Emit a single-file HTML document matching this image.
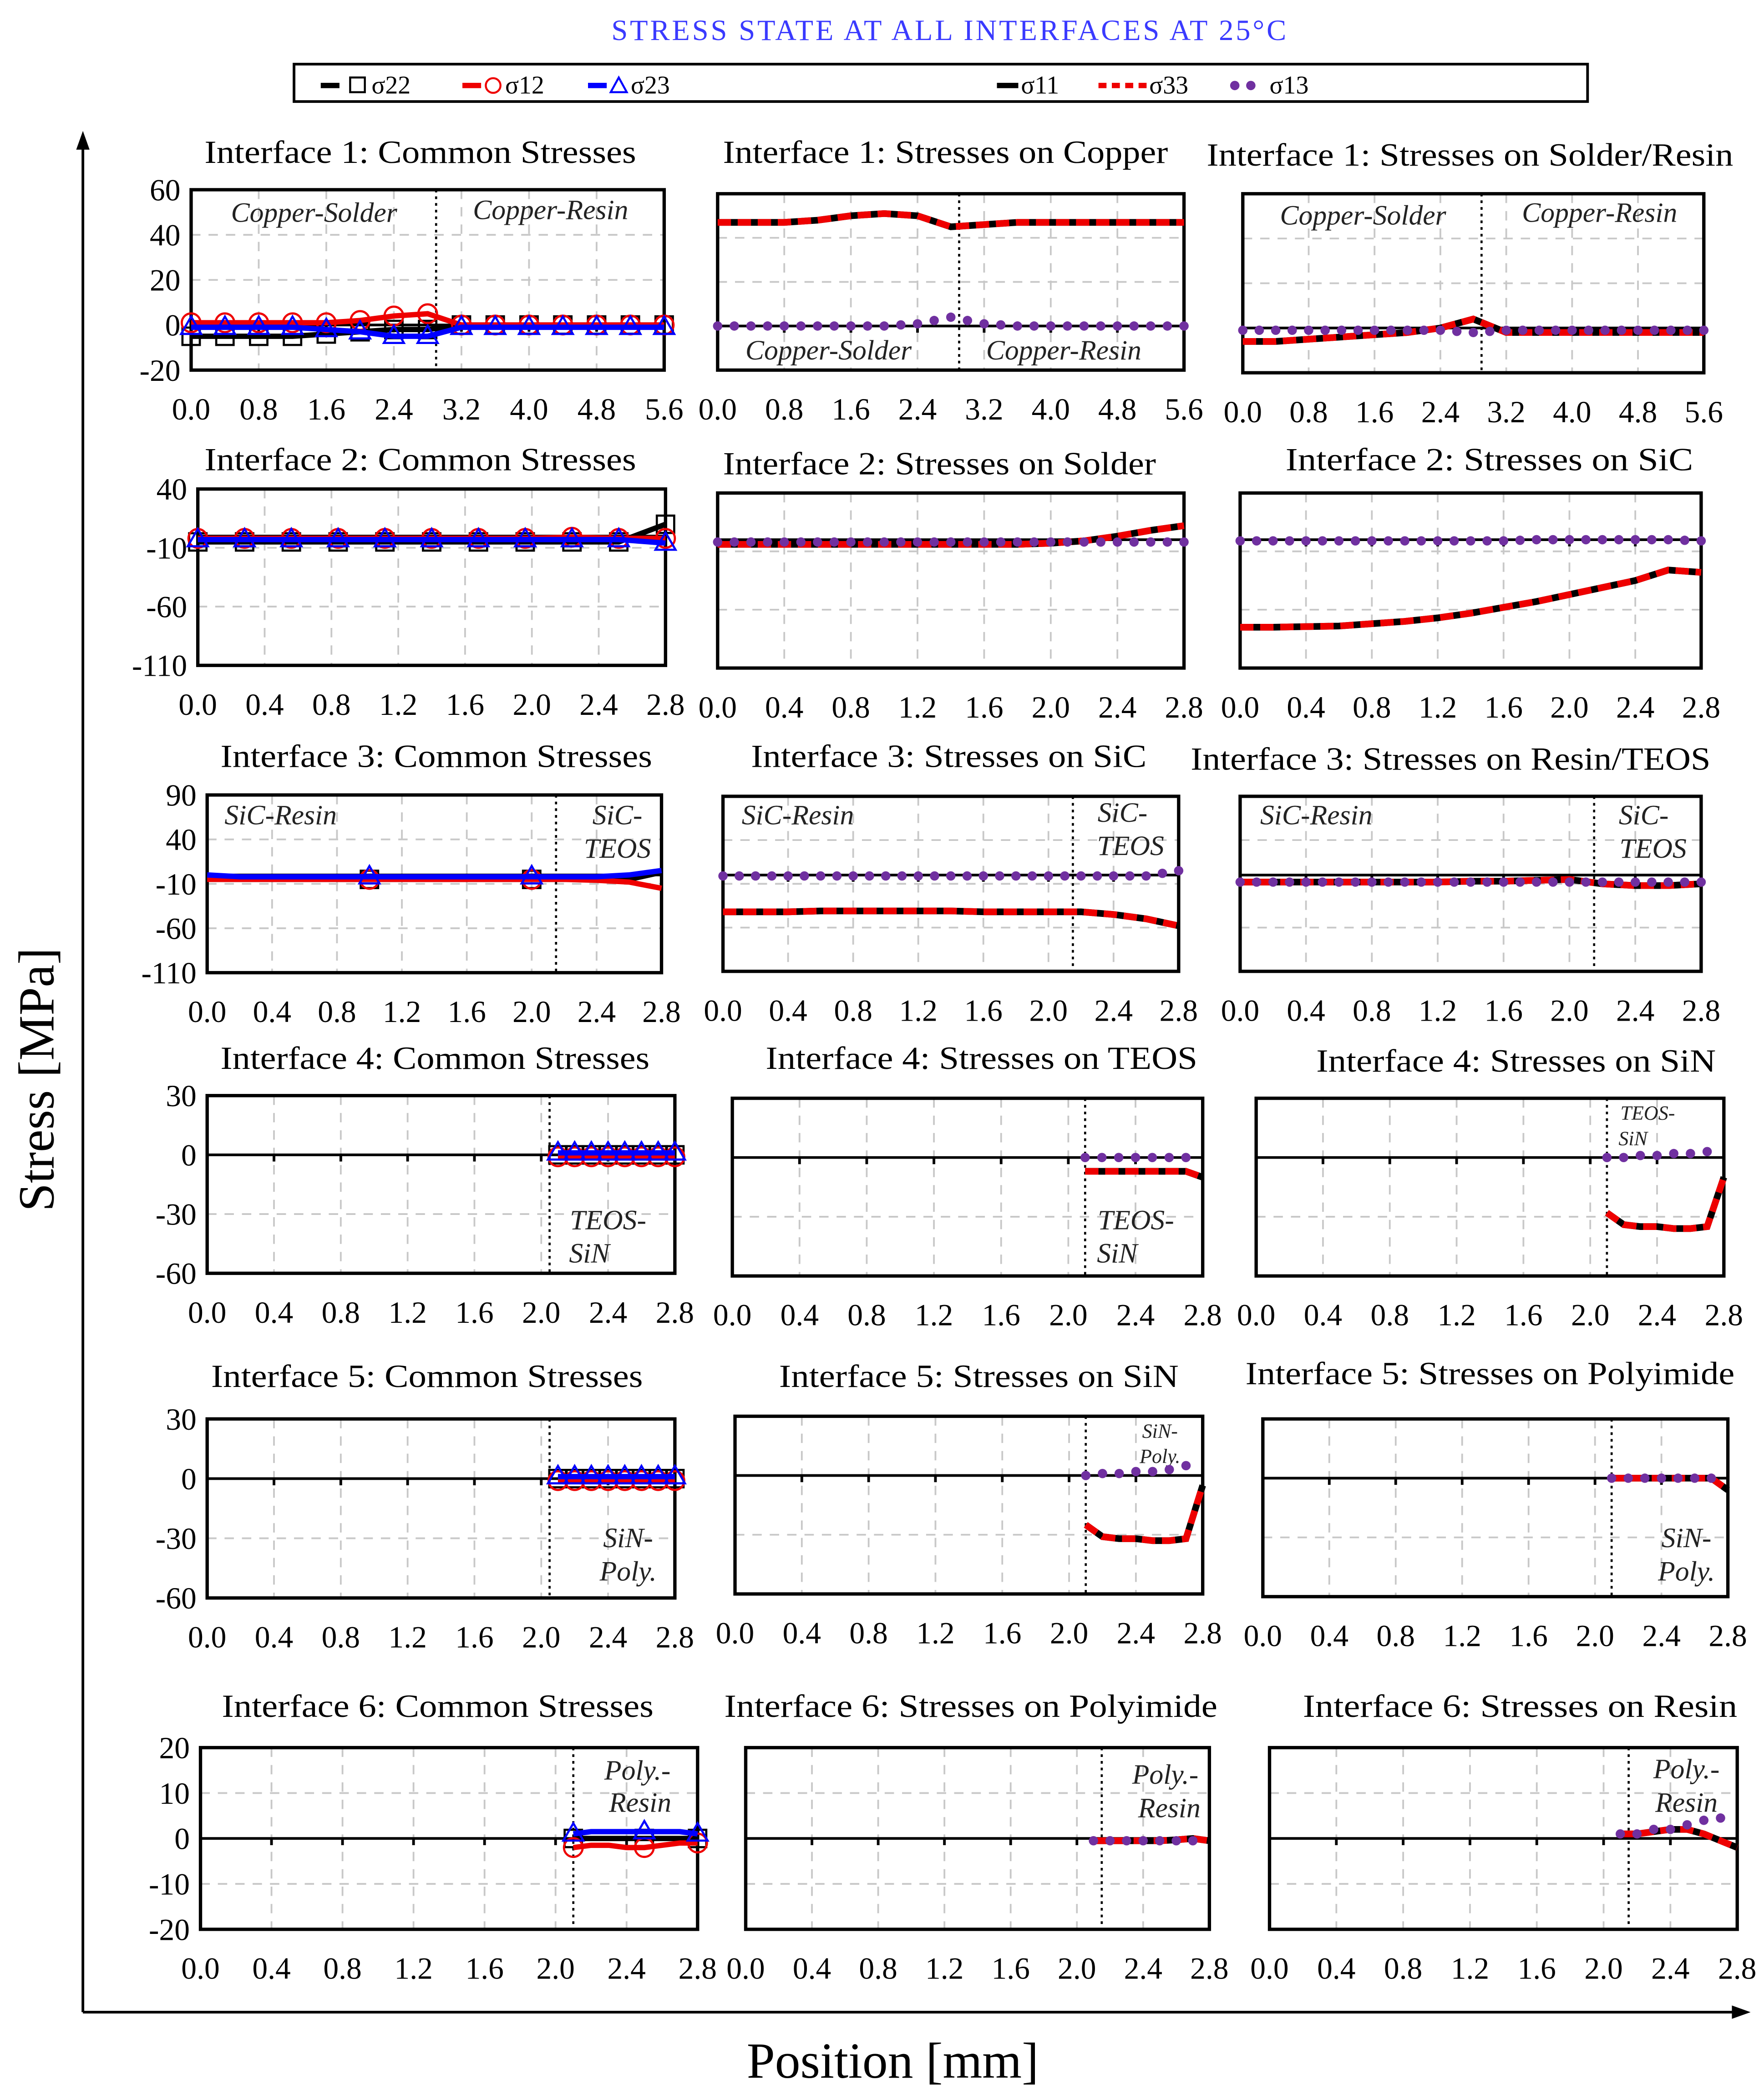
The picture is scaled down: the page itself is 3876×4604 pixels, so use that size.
<!DOCTYPE html>
<html><head><meta charset="utf-8">
<style>
html,body{margin:0;padding:0;background:#fff;}
svg{display:block;}
text{font-family:"Liberation Serif",serif;}
</style></head>
<body>
<svg id="fig" width="3876" height="4604" viewBox="0 0 1320 1568" xmlns="http://www.w3.org/2000/svg">
<text x="710" y="30" font-size="22" fill="#3a3aff" text-anchor="middle" textLength="505">STRESS STATE AT ALL INTERFACES AT 25°C</text>
<g>
<rect x="220" y="48" width="968" height="28" fill="#fff" stroke="#000" stroke-width="2"/>
<g><line x1="240" y1="64" x2="254" y2="64" stroke="#000" stroke-width="4"/><rect x="262" y="58" width="11" height="11" fill="none" stroke="#000" stroke-width="1.5"/><text x="278" y="70" font-size="19">σ22</text></g>
<g><line x1="346" y1="64" x2="360" y2="64" stroke="#e00" stroke-width="4"/><circle cx="369" cy="64" r="5.5" fill="none" stroke="#e00" stroke-width="1.5"/><text x="378" y="70" font-size="19">σ12</text></g>
<g><line x1="440" y1="64" x2="454" y2="64" stroke="#00f" stroke-width="4"/><path d="M463 58 L469 69 L457 69 Z" fill="none" stroke="#00f" stroke-width="1.5"/><text x="472" y="70" font-size="19">σ23</text></g>
<g><line x1="746" y1="64" x2="762" y2="64" stroke="#000" stroke-width="4"/><text x="764" y="70" font-size="19">σ11</text></g>
<g><line x1="822" y1="64" x2="858" y2="64" stroke="#e00" stroke-width="4" stroke-dasharray="6,4"/><text x="860" y="70" font-size="19">σ33</text></g>
<g><circle cx="924" cy="64" r="3.5" fill="#7030a0"/><circle cx="936" cy="64" r="3.5" fill="#7030a0"/><text x="950" y="70" font-size="19">σ13</text></g>
</g>
<g>
<line x1="62" y1="1506" x2="62" y2="108" stroke="#000" stroke-width="2"/>
<path d="M62 98 L57 112 L67 112 Z" fill="#000"/>
<line x1="62" y1="1506" x2="1300" y2="1506" stroke="#000" stroke-width="2"/>
<path d="M1310 1506 L1296 1501 L1296 1511 Z" fill="#000"/>
</g>
<text transform="translate(40,808) rotate(-90)" font-size="38" text-anchor="middle">Stress [MPa]</text>
<text x="668" y="1555" font-size="38" text-anchor="middle">Position [mm]</text>
<g id="panels"></g>
</svg>
<script>
// ---- data arrays ----
const xLong = [0,0.4,0.8,1.2,1.6,2.0,2.4,2.8,3.2,3.6,4.0,4.4,4.8,5.2,5.6];
const xShort = [0,0.2,0.4,0.6,0.8,1.0,1.2,1.4,1.6,1.8,2.0,2.2,2.4,2.6,2.8];
const xMark = [0,0.28,0.56,0.84,1.12,1.4,1.68,1.96,2.24,2.52,2.8];
const xTail = [2.1,2.2,2.3,2.4,2.5,2.6,2.7,2.8];
const xTailM = [2.1,2.2,2.3,2.4,2.5,2.6,2.7];
// Interface 1
const i1_s22 = [-5,-5,-5,-5,-4,-3,-2,-2,0,0,0,0,0,0,0];
const i1_s12 = [1,1,1,1,1,2,4,5,0,0,0,0,0,0,0];
const i1_s23 = [-1,-1,-1,-1,-2,-3,-5,-5,-1,-1,-1,-1,-1,-1,-1];
const i1cu_s11 = [47,47,47,48,50,51,50,45,46,47,47,47,47,47,47];
const i1cu_s13 = [0,0,0,0,0,0,1,4,1,0,0,0,0,0,0];
const i1sr_s11 = [-6,-6,-5,-4,-3,-2,0,4,-2,-2,-2,-2,-2,-2,-2];
const i1sr_s13 = [-1,-1,-1,-1,-1,-1,-1,-2,-1,-1,-1,-1,-1,-1,-1];
// Interface 2
const i2_s22 = [-5,-5,-5,-5,-5,-5,-5,-5,-5,-5,10];
const i2_s12 = [-2,-2,-2,-2,-2,-2,-2,-2,-1,-2,-2];
const i2_s23 = [-3,-3,-3,-3,-3,-3,-3,-3,-3,-3,-6];
const i2so_s11 = [-4,-4,-4,-4,-4,-4,-4,-4,-4,-4,-3,-1,3,8,12];
const i2so_s13 = [-2,-2,-2,-2,-2,-2,-2,-2,-2,-2,-2,-2,-2,-2,-2];
const i2sic_s11 = [-75,-75,-74.5,-74,-72,-70,-67,-63,-58,-53,-47,-41,-35,-26,-28];
const i2sic_s13 = [-1,-1,-1,-1,-1,-1,-1,-1,-1,0,0,0,0,0,-1];
// Interface 3
const i3_s22 = [-5,-5,-5,-5,-5,-5,-5,-5,-5,-5,-5,-5,-5,-5,3];
const i3_s12 = [-5,-5,-5,-5,-5,-5,-5,-5,-5,-5,-5,-5,-6,-8,-15];
const i3_s23 = [0,-2,-2,-2,-2,-2,-2,-2,-2,-2,-2,-2,-2,0,5];
const i3sic_s11 = [-42,-42,-42,-41,-41,-41,-41,-41,-42,-42,-42,-42,-45,-50,-58];
const i3sic_s13 = [-1,-1,-1,-1,-1,-1,-1,-1,-1,-1,-1,-1,-1,-1,5];
const i3rt_s11 = [-8,-8,-8,-8,-8,-8,-8,-7,-7,-6,-5,-10,-12,-12,-10];
const i3rt_s13 = [-8,-8,-8,-8,-8,-8,-8,-8,-8,-8,-8,-8,-8,-8,-8];
// Interface 4
const i4_s22 = [0,0,0,0,0,0,0,0];
const i4_s12 = [-1,-1,-1,-1,-1,-1,-1,-1];
const i4_s23 = [1,1,1,1,1,1,1,1];
const i4te_s11 = [-7,-7,-7,-7,-7,-7,-7,-10];
const i4te_s13 = [0,0,0,0,0,0,0];
const i4sn_s11 = [-28,-34,-35,-35,-36,-36,-35,-10];
const i4sn_s13 = [0,0,1,1,2,2,3];
// Interface 5
const i5_s22 = [0,0,0,0,0,0,0,0];
const i5_s12 = [-1,-1,-1,-1,-1,-1,-1,-1];
const i5_s23 = [1,1,1,1,1,1,1,1];
const i5sn_s11 = [-25,-31,-32,-32,-33,-33,-32,-5];
const i5sn_s13 = [0,1,1,2,2,3,5];
const i5po_s11 = [0,0,0,0,0,0,0,-6];
const i5po_s13 = [0,0,0,0,0,0,0];
// Interface 6
const i6_s22 = [0,0,0,0,0,0,0,0];
const i6_s12 = [-2,-1.5,-1.5,-2,-2,-1.5,-1,-1];
const i6_s23 = [1,1.5,1.5,1.5,1.5,1.5,1.5,1];
const i6po_s11 = [-0.5,-0.5,-0.5,-0.5,-0.5,-0.3,0,-0.5];
const i6po_s13 = [-0.5,-0.5,-0.5,-0.5,-0.5,-0.5,-0.5];
const i6re_s11 = [1,1,1.5,2,2,1,-0.5,-2];
const i6re_s13 = [1,1,2,2,3,4,4.5];
// tick labels
const xTicksLong = [0,0.8,1.6,2.4,3.2,4.0,4.8,5.6];
const xTicksShort = [0,0.4,0.8,1.2,1.6,2.0,2.4,2.8];
const yTicks1 = [60,40,20,0,-20];
const yTicks2 = [40,-10,-60,-110];
const yTicks3 = [90,40,-10,-60,-110];
const yTicks45 = [30,0,-30,-60];
const yTicks6 = [20,10,0,-10,-20];

const NS='http://www.w3.org/2000/svg';
function el(tag, attrs, parent){const e=document.createElementNS(NS,tag);for(const k in attrs)e.setAttribute(k,attrs[k]);parent.appendChild(e);return e;}

const panels=[
 {name:'i1-common',title:'Interface 1: Common Stresses',tl:[153,476],ty:122,x0:143,x1:497,y0:142,y1:277,xmax:5.6,xt:xTicksLong,yt:yTicks1,yl:true,div:2.9,type:'c',xs:xLong,d:[i1_s22,i1_s12,i1_s23],ann:[['Copper-Solder',235,166],['Copper-Resin',412,164]]},
 {name:'i1-copper',title:'Interface 1: Stresses on Copper',tl:[541,874],ty:122,x0:537,x1:886,y0:145,y1:277,xmax:5.6,xt:xTicksLong,yt:yTicks1,div:2.9,type:'s',xs:xLong,d:[i1cu_s11,i1cu_s13],ann:[['Copper-Solder',620,269],['Copper-Resin',796,269]]},
 {name:'i1-solder-resin',title:'Interface 1: Stresses on Solder/Resin',tl:[903,1297],ty:124,x0:930,x1:1275,y0:145,y1:279,xmax:5.6,xt:xTicksLong,yt:yTicks1,div:2.9,type:'s',xs:xLong,d:[i1sr_s11,i1sr_s13],ann:[['Copper-Solder',1020,168],['Copper-Resin',1197,166]]},
 {name:'i2-common',title:'Interface 2: Common Stresses',tl:[153,476],ty:352,x0:148,x1:498,y0:366,y1:498,xmax:2.8,xt:xTicksShort,yt:yTicks2,yl:true,type:'c',xs:xMark,d:[i2_s22,i2_s12,i2_s23],ann:[]},
 {name:'i2-solder',title:'Interface 2: Stresses on Solder',tl:[541,865],ty:355,x0:537,x1:886,y0:369,y1:500,xmax:2.8,xt:xTicksShort,yt:yTicks2,type:'s',xs:xShort,d:[i2so_s11,i2so_s13],ann:[]},
 {name:'i2-sic',title:'Interface  2: Stresses on SiC',tl:[962,1267],ty:352,x0:928,x1:1273,y0:369,y1:500,xmax:2.8,xt:xTicksShort,yt:yTicks2,type:'s',xs:xShort,d:[i2sic_s11,i2sic_s13],ann:[]},
 {name:'i3-common',title:'Interface 3: Common Stresses',tl:[165,488],ty:574,x0:155,x1:495,y0:595,y1:728,xmax:2.8,xt:xTicksShort,yt:yTicks3,yl:true,div:2.15,type:'c',xs:xShort,d:[i3_s22,i3_s12,i3_s23],xmi:[5,10],ann:[['SiC-Resin',210,617],['SiC-',462,617],['TEOS',462,642]]},
 {name:'i3-sic',title:'Interface 3: Stresses on SiC',tl:[562,858],ty:574,x0:541,x1:882,y0:596,y1:727,xmax:2.8,xt:xTicksShort,yt:yTicks3,div:2.15,type:'s',xs:xShort,d:[i3sic_s11,i3sic_s13],ann:[['SiC-Resin',597,617],['SiC-',840,615],['TEOS',846,640]]},
 {name:'i3-resin-teos',title:'Interface 3: Stresses on Resin/TEOS',tl:[891,1280],ty:576,x0:928,x1:1273,y0:596,y1:727,xmax:2.8,xt:xTicksShort,yt:yTicks3,div:2.15,type:'s',xs:xShort,d:[i3rt_s11,i3rt_s13],ann:[['SiC-Resin',985,617],['SiC-',1230,617],['TEOS',1237,642]]},
 {name:'i4-common',title:'Interface 4: Common Stresses',tl:[165,486],ty:800,x0:155,x1:505,y0:820,y1:953,xmax:2.8,xt:xTicksShort,yt:yTicks45,yl:true,div:2.05,type:'c',xs:xTail,d:[i4_s22,i4_s12,i4_s23],ann:[['TEOS-',455,920],['SiN',441,945]]},
 {name:'i4-teos',title:'Interface 4: Stresses on TEOS',tl:[573,896],ty:800,x0:548,x1:900,y0:822,y1:955,xmax:2.8,xt:xTicksShort,yt:yTicks45,div:2.1,type:'s',xs:xTail,xs13:xTailM,d:[i4te_s11,i4te_s13],ann:[['TEOS-',850,920],['SiN',836,945]]},
 {name:'i4-sin',title:'Interface 4: Stresses on SiN',tl:[985,1284],ty:802,x0:940,x1:1290,y0:822,y1:955,xmax:2.8,xt:xTicksShort,yt:yTicks45,div:2.1,type:'s',xs:xTail,xs13:xTailM,d:[i4sn_s11,i4sn_s13],ann:[['TEOS-',1233,838,'s'],['SiN',1222,857,'s']]},
 {name:'i5-common',title:'Interface 5: Common Stresses',tl:[158,481],ty:1038,x0:155,x1:505,y0:1062,y1:1196,xmax:2.8,xt:xTicksShort,yt:yTicks45,yl:true,div:2.05,type:'c',xs:xTail,d:[i5_s22,i5_s12,i5_s23],ann:[['SiN-',470,1158],['Poly.',470,1183]]},
 {name:'i5-sin',title:'Interface 5: Stresses on SiN',tl:[583,882],ty:1038,x0:550,x1:900,y0:1060,y1:1193,xmax:2.8,xt:xTicksShort,yt:yTicks45,div:2.1,type:'s',xs:xTail,xs13:xTailM,d:[i5sn_s11,i5sn_s13],ann:[['SiN-',868,1076,'s'],['Poly.',868,1095,'s']]},
 {name:'i5-polyimide',title:'Interface 5: Stresses on Polyimide',tl:[932,1298],ty:1036,x0:945,x1:1293,y0:1062,y1:1195,xmax:2.8,xt:xTicksShort,yt:yTicks45,div:2.1,type:'s',xs:xTail,xs13:xTailM,d:[i5po_s11,i5po_s13],ann:[['SiN-',1262,1158],['Poly.',1262,1183]]},
 {name:'i6-common',title:'Interface 6: Common Stresses',tl:[166,489],ty:1285,x0:150,x1:522,y0:1308,y1:1444,xmax:2.8,xt:xTicksShort,yt:yTicks6,yl:true,div:2.1,type:'c',xs:xTail,d:[i6_s22,i6_s12,i6_s23],xmi:[0,4,7],ann:[['Poly.-',477,1332],['Resin',479,1356]]},
 {name:'i6-polyimide',title:'Interface 6: Stresses on Polyimide',tl:[542,911],ty:1285,x0:558,x1:905,y0:1308,y1:1444,xmax:2.8,xt:xTicksShort,yt:yTicks6,div:2.15,type:'s',xs:xTail,xs13:xTailM,d:[i6po_s11,i6po_s13],ann:[['Poly.-',872,1335],['Resin',875,1360]]},
 {name:'i6-resin',title:'Interface  6: Stresses on Resin',tl:[975,1300],ty:1285,x0:950,x1:1300,y0:1308,y1:1444,xmax:2.8,xt:xTicksShort,yt:yTicks6,div:2.15,type:'s',xs:xTail,xs13:xTailM,d:[i6re_s11,i6re_s13],ann:[['Poly.-',1262,1331],['Resin',1262,1356]]}
];

const root=document.getElementById('panels');
panels.forEach(p=>{
 const g=el('g',{},root);
 
 
 const ymax=Math.max(...p.yt), ymin=Math.min(...p.yt);
 const X=v=>p.x0+(v/p.xmax)*(p.x1-p.x0);
 const Y=v=>p.y0+(ymax-v)/(ymax-ymin)*(p.y1-p.y0);
 const t=el('text',{x:p.tl[0],y:p.ty,'font-size':24,textLength:p.tl[1]-p.tl[0],lengthAdjust:'spacingAndGlyphs'},g);
 t.textContent=p.title;
 
 
 p.xt.forEach(v=>{ if(v>0&&v<p.xmax){const l=el('line',{x1:X(v),x2:X(v),y1:p.y0,y2:p.y1,stroke:'#c8c8c8','stroke-width':1.3,'stroke-dasharray':'7,6'},g);
   
   }
  const tl=el('text',{x:X(v),y:p.y1+37,'font-size':23,'text-anchor':'middle'},g);
  tl.textContent=v.toFixed(1);
  
  
 });
 p.yt.forEach(v=>{
  if(v!==0&&v!==ymax&&v!==ymin){const l=el('line',{x1:p.x0,x2:p.x1,y1:Y(v),y2:Y(v),stroke:'#c8c8c8','stroke-width':1.3,'stroke-dasharray':'7,6'},g);
   
   }
  if(p.yl){const tl=el('text',{x:p.x0-8,y:Y(v)+8,'font-size':23,'text-anchor':'end'},g);
   tl.textContent=String(v);
   
   }
 });
 const z=el('line',{x1:p.x0,x2:p.x1,y1:Y(0),y2:Y(0),stroke:'#000','stroke-width':2},g);
 
 
 p.xt.forEach(v=>{el('line',{x1:X(v),x2:X(v),y1:Y(0),y2:Y(0)+5,stroke:'#000','stroke-width':2},g);});
 const fr=el('rect',{x:p.x0,y:p.y0,width:p.x1-p.x0,height:p.y1-p.y0,fill:'none',stroke:'#000','stroke-width':2.5},g);
 
 
 if(p.div!==undefined){const dv=el('line',{x1:X(p.div),x2:X(p.div),y1:p.y0,y2:p.y1,stroke:'#000','stroke-width':1.6,'stroke-dasharray':'2,3'},g);
  
  }
 p.ann.forEach(a=>{const at=el('text',{x:a[1],y:a[2],'font-size':a[3]?15:21,'font-style':'italic','text-anchor':'middle',fill:'#222'},g);
  at.textContent=a[0];
  
  });
 const pts=(xs,ys)=>ys.map((v,i)=>X(xs[i])+','+Y(v)).join(' ');
 if(p.type==='c'){
  const cols=['#000','#e00','#00f'], names=['s22','s12','s23'];
  p.d.forEach((ys,k)=>{
   const s=el('g',{},g);
   
   
   el('polyline',{points:pts(p.xs,ys),fill:'none',stroke:cols[k],'stroke-width':4},s);
   ys.forEach((v,i)=>{
    if(p.xmi&&p.xmi.indexOf(i)<0)return;
    const cx=X(p.xs[i]),cy=Y(v);let m;
    if(k===0)m=el('rect',{x:cx-6.5,y:cy-6.5,width:13,height:13,fill:'none',stroke:cols[k],'stroke-width':1.6},s);
    else if(k===1)m=el('circle',{cx:cx,cy:cy,r:7,fill:'none',stroke:cols[k],'stroke-width':1.6},s);
    else m=el('path',{d:`M${cx} ${cy-8} L${cx+7.5} ${cy+5} L${cx-7.5} ${cy+5} Z`,fill:'none',stroke:cols[k],'stroke-width':1.6},s);
    
    
   });
  });
 } else {
  const s11=el('polyline',{points:pts(p.xs,p.d[0]),fill:'none',stroke:'#000','stroke-width':5},g);
  
  
  const s33=el('polyline',{points:pts(p.xs,p.d[0]),fill:'none',stroke:'#e00','stroke-width':5,'stroke-dasharray':'10,5'},g);
  
  
  const xs13=p.xs13||p.xs;
  p.d[1].forEach((v,i)=>{
   const c=el('circle',{cx:X(xs13[i]),cy:Y(v),r:3.5,fill:'#7030a0'},g);
   
   
   if(p.xs===xLong||p.xs===xShort){ if(i<p.d[1].length-1){const c2=el('circle',{cx:(X(xs13[i])+X(xs13[i+1]))/2,cy:Y((v+p.d[1][i+1])/2),r:3.5,fill:'#7030a0'},g);
    
    }}
  });
 }
});
</script>
</body></html>
